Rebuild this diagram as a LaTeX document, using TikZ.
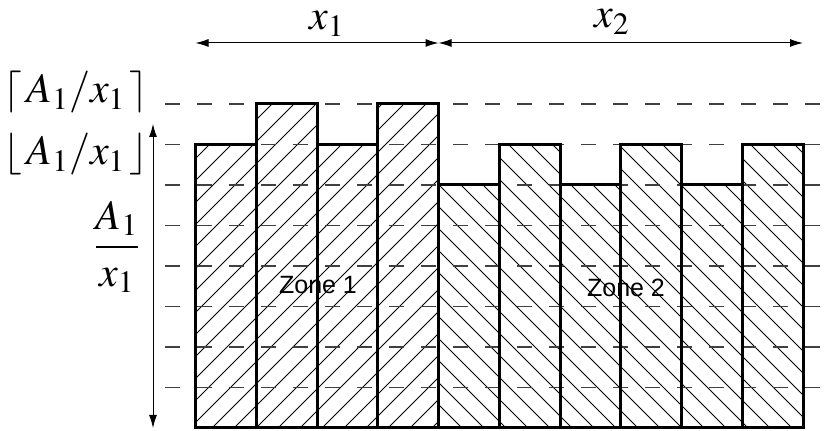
\documentclass[tikz,border=0pt]{standalone}
\usepackage{amsmath}
\usepackage{mathptmx}
\usepackage{fontspec}
\setsansfont{Liberation Sans}
\usetikzlibrary{arrows.meta}

\tikzset{
  bar/.style={line width=1.5pt},
  hatch/.style={line width=0.4pt},
  guide/.style={dash pattern=on 7.5pt off 8.5pt, line width=0.6pt, black!75},
  dim/.style={{Latex[length=6.5pt,width=4pt]}-{Latex[length=6.5pt,width=4pt]}, line width=0.5pt},
  lbl/.style={font=\fontsize{21}{25}\selectfont, inner sep=0pt},
  zone/.style={font=\sffamily\fontsize{12.5}{14}\selectfont, inner sep=0pt}
}

\begin{document}
\begin{tikzpicture}[x=0.5pt, y=-0.5pt, line cap=butt, line join=miter]
    \useasboundingbox (0,0) rectangle (824,431);

    % --- hatching, zone 1 ---
    \begin{scope}
      \clip \foreach \i/\h in {0/7,1/8,2/7,3/8}{
        (195.5+\i*60.75,428) rectangle (195.5+\i*60.75+60.75,428-\h*40.5)
      };
      \foreach \t in {-140,-118,...,440}{
        \draw[hatch] (\t,428)--(\t+340,88);
      }
    \end{scope}

    % --- hatching, zone 2 ---
    \begin{scope}
      \clip \foreach \i/\h in {4/6,5/7,6/6,7/7,8/6,9/7}{
        (195.5+\i*60.75,428) rectangle (195.5+\i*60.75+60.75,428-\h*40.5)
      };
      \foreach \t in {440,462,...,1150}{
        \draw[hatch] (\t,428)--(\t-340,88);
      }
    \end{scope}

    % dashed levels
    \foreach \k in {1,...,8}{
      \draw[guide] (165,428-\k*40.5)--(824,428-\k*40.5);
    }

    % bar outlines
    \foreach \i/\h in {0/7,1/8,2/7,3/8,4/6,5/7,6/6,7/7,8/6,9/7}{
      \draw[bar] (195.5+\i*60.75,428) rectangle (195.5+\i*60.75+60.75,428-\h*40.5);
    }

    % dimension arrows
    \coordinate (left)  at (195.5,43);
    \coordinate (mid)   at (438.5,43);
    \coordinate (right) at (803,43);
    \coordinate (vtop)  at (153,124);
    \coordinate (vbot)  at (153,428);
    \draw[dim] (left)--(mid);
    \draw[dim] (mid)--(right);
    \draw[dim] (vtop)--(vbot);

    % labels
    \node[lbl, anchor=base] (xone) at (327,30) {$x_1$};
    \node[lbl, anchor=base] (xtwo) at (612,28) {$x_2$};
    \node[lbl, anchor=base] (ceil) at (76,103) {$\lceil\, A_1/x_1\, \rceil$};
    \node[lbl, anchor=base] (floor) at (76,165) {$\lfloor\, A_1/x_1\, \rfloor$};
    \node[lbl] (frac) at (117,247) {$\dfrac{A_1}{x_1}$};
    \node[zone] (zone1) at (318,285) {Zone 1};
    \node[zone] (zone2) at (626,288) {Zone 2};
  \end{tikzpicture}
\end{document}
